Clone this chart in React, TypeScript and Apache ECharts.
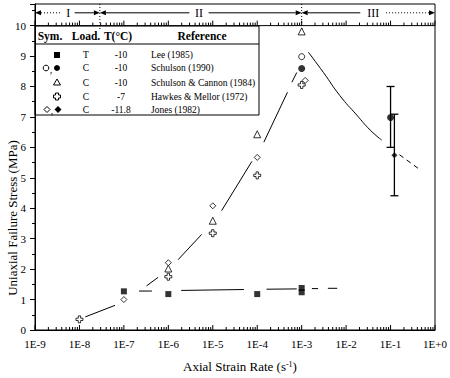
import React, { useEffect, useRef } from "react";
import * as echarts from "echarts";

const SERIF = "Liberation Serif";

// ---- tick labels ----
const xTickLabels = ["1E-9", "1E-8", "1E-7", "1E-6", "1E-5", "1E-4", "1E-3", "1E-2", "1E-1", "1E+0"];
const yTickValues = [0, 1, 2, 3, 4, 5, 6, 7, 8, 9, 10];

// ---- data (strain rate s^-1, stress MPa) ----
// Lee (1985), T, -10 : filled squares
const leeRate = [1e-7, 1e-6, 1e-4, 1e-3, 1e-3];
const leeStress = [1.27, 1.18, 1.18, 1.24, 1.38];
// Schulson (1990), C, -10 : open / filled circles
const schulsonOpenRate = [1e-3];
const schulsonOpenStress = [8.98];
const schulsonFilledRate = [1e-3, 1e-1];
const schulsonFilledStress = [8.59, 6.98];
const schulsonErrLow = [6.0];
const schulsonErrHigh = [8.0];
const schulsonErrRate = [1e-1];
// Schulson & Cannon (1984), C, -10 : open triangles
const cannonRate = [1e-6, 1e-5, 1e-4, 1e-3];
const cannonStress = [2.02, 3.59, 6.43, 9.81];
// Hawkes & Mellor (1972), C, -7 : open crosses
const hawkesRate = [1e-8, 1e-6, 1e-5, 1e-4, 1e-3];
const hawkesStress = [0.35, 1.75, 3.18, 5.08, 8.05];
// Jones (1982), C, -11.8 : open / filled diamonds
const jonesOpenRate = [1e-7, 1e-6, 1e-5, 1e-4, 1.2e-3];
const jonesOpenStress = [1.0, 2.21, 4.08, 5.67, 8.2];
const jonesFilledRate = [1.22e-1];
const jonesFilledStress = [5.74];
const jonesErrLow = [4.41];
const jonesErrHigh = [7.09];

// fitted curves, each inner array is one drawn segment
const riseFitSegments = [
  [[1.35e-8, 0.43], [6.31e-8, 0.81]],
  [[3.24e-7, 1.45], [5.89e-7, 1.73]],
  [[1.66e-6, 2.31], [5.62e-6, 3.14]],
  [[1.58e-5, 3.92], [7.59e-5, 5.54]],
  [[1.41e-4, 6.17], [4.79e-4, 7.81]],
  [[6.03e-4, 8.14], [7.76e-4, 8.46]],
];
const leeFitSegments = [
  [[2.19e-7, 1.28], [4.27e-7, 1.28]],
  [[1.95e-6, 1.30], [5.01e-5, 1.33]],
  [[1.62e-4, 1.34], [7.76e-4, 1.35]],
  [[1.7e-3, 1.36], [2.34e-3, 1.36]],
  [[3.89e-3, 1.37], [6.31e-3, 1.37]],
];
const fallFit = [[1.41e-3, 9.13], [3.09e-3, 8.46], [7.24e-3, 7.7], [1.74e-2, 7.06], [3.47e-2, 6.57], [6.31e-2, 6.24]];
const tailFit = [[0.158, 5.76], [0.457, 5.27]];

// regimes along the top
const regionLabels = ["I", "II", "III"];
const regionStart = [1e-9, 2.88e-8, 1e-3];
const regionEnd = [2.88e-8, 1e-3, 1];
const regionLabelAt = [5.62e-9, 4.9e-6, 4.07e-2];
const regionLeftDotted = [true, false, false];
const regionRightDotted = [false, false, true];
const regionBoundaries = [2.88e-8, 1e-3];
const regionArrowLevel = 10.42;
const topLevel = 10.71;

// legend table
const tableHeader = ["Sym.", "Load.", "T(°C)", "Reference"];
const tableLoad = ["T", "C", "C", "C", "C"];
const tableTemp = ["-10", "-10", "-10", "-7", "-11.8"];
const tableRef = ["Lee (1985)", "Schulson (1990)", "Schulson & Cannon (1984)", "Hawkes & Mellor (1972)", "Jones (1982)"];

const PLUS = "path://M3,0L6,0L6,3L9,3L9,6L6,6L6,9L3,9L3,6L0,6L0,3L3,3Z";

function zip(a: number[], b: number[]) {
  return a.map((v, i) => [v, b[i]]);
}

export default function App() {
  const ref = useRef<HTMLDivElement>(null);
  useEffect(() => {
    if (!ref.current) return;
    const chart = echarts.init(ref.current, undefined, { renderer: "svg" });

    const tickData: number[][] = [];
    for (let k = -9; k <= -1; k++) {
      for (let m = 1; m <= 9; m++) tickData.push([m * Math.pow(10, k), m]);
    }
    tickData.push([1, 1]);

    const black = "#000";
    const segSeries = (segs: number[][][], name: string) =>
      segs.map((s, i) => ({
        type: "line",
        name: name + i,
        data: s,
        showSymbol: false,
        symbol: "none",
        lineStyle: { color: black, width: 1 },
        silent: true,
        z: 2,
      }));

    const txt = (x: number, y: number, text: string, size: number, align: string, bold = false) => ({
      type: "text",
      x,
      y,
      z: 10,
      style: {
        text,
        fontFamily: SERIF,
        fontSize: size,
        fontWeight: bold ? "bold" : "normal",
        fill: black,
        align,
        verticalAlign: "middle",
      },
    });

    const rows = [55, 68, 82.5, 96.5, 109.5];
    const graphicEls: any[] = [
      {
        type: "text",
        x: 12,
        y: 218,
        rotation: Math.PI / 2,
        style: {
          text: "Uniaxial Failure Stress (MPa)",
          fontFamily: SERIF,
          fontSize: 13,
          fill: black,
          align: "center",
          verticalAlign: "middle",
        },
      },
      { type: "rect", shape: { x: 35, y: 26, width: 224, height: 89 }, style: { fill: "none", stroke: black, lineWidth: 1 }, z: 10 },
      { type: "line", shape: { x1: 35, y1: 44, x2: 259, y2: 44 }, style: { stroke: black, lineWidth: 1 }, z: 10 },
      txt(50, 36, tableHeader[0], 11.5, "center", true),
      txt(86, 36, tableHeader[1], 11.5, "center", true),
      txt(118, 36, tableHeader[2], 11.5, "center", true),
      txt(202, 36, tableHeader[3], 11.5, "center", true),
      // symbols
      { type: "rect", shape: { x: 54, y: rows[0] - 3, width: 6, height: 6 }, style: { fill: black }, z: 10 },
      { type: "circle", shape: { cx: 46, cy: rows[1], r: 2.8 }, style: { fill: "#fff", stroke: black, lineWidth: 1 }, z: 10 },
      txt(51, rows[1] + 1, ",", 10, "center"),
      { type: "circle", shape: { cx: 57, cy: rows[1], r: 3 }, style: { fill: black }, z: 10 },
      { type: "polygon", shape: { points: [[57, rows[2] - 3.5], [60.5, rows[2] + 2.5], [53.5, rows[2] + 2.5]] }, style: { fill: "#fff", stroke: black, lineWidth: 1 }, z: 10 },
      {
        type: "polygon",
        shape: {
          points: [
            [55.5, rows[3] - 3.5], [58.5, rows[3] - 3.5], [58.5, rows[3] - 1.5], [60.5, rows[3] - 1.5], [60.5, rows[3] + 1.5], [58.5, rows[3] + 1.5],
            [58.5, rows[3] + 3.5], [55.5, rows[3] + 3.5], [55.5, rows[3] + 1.5], [53.5, rows[3] + 1.5], [53.5, rows[3] - 1.5], [55.5, rows[3] - 1.5],
          ],
        },
        style: { fill: "#fff", stroke: black, lineWidth: 1 },
        z: 10,
      },
      { type: "polygon", shape: { points: [[47, rows[4] - 3], [50, rows[4]], [47, rows[4] + 3], [44, rows[4]]] }, style: { fill: "#fff", stroke: black, lineWidth: 1 }, z: 10 },
      txt(52, rows[4] + 1, ",", 10, "center"),
      { type: "polygon", shape: { points: [[58, rows[4] - 3.5], [61.5, rows[4]], [58, rows[4] + 3.5], [54.5, rows[4]]] }, style: { fill: black }, z: 10 },
    ];
    rows.forEach((y, i) => {
      graphicEls.push(txt(86, y, tableLoad[i], 9.5, "center"), txt(121, y, tableTemp[i], 9.5, "center"), txt(151, y, tableRef[i], 9.5, "left"));
    });

    const option: any = {
      animation: false,
      backgroundColor: "#fff",
      textStyle: { fontFamily: SERIF },
      grid: { left: 35, right: 15, top: 4, bottom: 44, show: true, borderColor: black, borderWidth: 1, backgroundColor: "transparent" },
      xAxis: {
        type: "log",
        logBase: 10,
        min: 1e-9,
        max: 1,
        axisLine: { lineStyle: { color: black, width: 1 } },
        axisTick: { show: false },
        splitLine: { show: false },
        axisLabel: {
          color: black,
          fontFamily: SERIF,
          fontSize: 11,
          margin: 8,
          formatter: (v: number) => xTickLabels[Math.round(Math.log10(v)) + 9] ?? "",
        },
        name: "Axial Strain Rate (s{sup|-1})",
        nameLocation: "middle",
        nameGap: 30,
        nameTextStyle: {
          color: black,
          fontFamily: SERIF,
          fontSize: 13,
          padding: [0, 0, 0, 10],
          rich: { sup: { fontSize: 8, fontFamily: SERIF, color: black, verticalAlign: "top", lineHeight: 10 } },
        },
      },
      yAxis: {
        type: "value",
        min: 0,
        max: topLevel,
        interval: 1,
        axisLine: { lineStyle: { color: black, width: 1 } },
        axisTick: { show: true, inside: false, length: 5, lineStyle: { color: black } },
        minorTick: { show: true, splitNumber: 2, length: 3, lineStyle: { color: black } },
        splitLine: { show: false },
        axisLabel: {
          color: black,
          fontFamily: SERIF,
          fontSize: 11,
          margin: 9,
          showMaxLabel: false,
          formatter: (v: number) => (yTickValues.includes(v) ? String(v) : ""),
        },
      },
      graphic: graphicEls,
      series: [
        // level-10 line
        { type: "line", data: [[1e-9, 10], [1, 10]], showSymbol: false, symbol: "none", lineStyle: { color: black, width: 1 }, silent: true, z: 2 },
        // regime boundaries (dotted)
        ...regionBoundaries.map((b) => ({
          type: "line",
          data: [[b, topLevel], [b, 9.85]],
          showSymbol: false,
          symbol: "none",
          lineStyle: { color: black, width: 1, type: [1, 2] },
          silent: true,
          z: 2,
        })),
        // log ticks (bottom + level 10)
        {
          type: "custom",
          data: tickData,
          silent: true,
          z: 3,
          renderItem: (params: any, api: any) => {
            const v = api.value(0);
            const m = api.value(1);
            const len = m === 1 ? 5 : 3;
            const pb = api.coord([v, 0]);
            const pt = api.coord([v, 10]);
            return {
              type: "group",
              children: [
                { type: "line", shape: { x1: pb[0], y1: pb[1], x2: pb[0], y2: pb[1] - len }, style: { stroke: black, lineWidth: 1 } },
                { type: "line", shape: { x1: pt[0], y1: pt[1], x2: pt[0], y2: pt[1] - len }, style: { stroke: black, lineWidth: 1 } },
              ],
            };
          },
        },
        // regime arrows
        {
          type: "custom",
          data: regionLabels.map((_, i) => [regionStart[i], regionEnd[i], regionLabelAt[i], i]),
          silent: true,
          z: 3,
          renderItem: (params: any, api: any) => {
            const i = api.value(3);
            const p0 = api.coord([api.value(0), regionArrowLevel]);
            const p1 = api.coord([api.value(1), regionArrowLevel]);
            const pl = api.coord([api.value(2), regionArrowLevel]);
            const y = p0[1];
            const label = regionLabels[i];
            const gap = 3 + 3.3 * label.length;
            const ah = 6;
            return {
              type: "group",
              children: [
                {
                  type: "line",
                  shape: { x1: p0[0] + ah, y1: y, x2: pl[0] - gap, y2: y },
                  style: { stroke: black, lineWidth: 1, lineDash: regionLeftDotted[i] ? [1, 2] : null },
                },
                {
                  type: "line",
                  shape: { x1: pl[0] + gap, y1: y, x2: p1[0] - ah, y2: y },
                  style: { stroke: black, lineWidth: 1, lineDash: regionRightDotted[i] ? [1, 2] : null },
                },
                { type: "polygon", shape: { points: [[p0[0], y], [p0[0] + ah, y - 2.5], [p0[0] + ah, y + 2.5]] }, style: { fill: black } },
                { type: "polygon", shape: { points: [[p1[0], y], [p1[0] - ah, y - 2.5], [p1[0] - ah, y + 2.5]] }, style: { fill: black } },
                {
                  type: "text",
                  x: pl[0],
                  y: y,
                  style: { text: label, fontFamily: SERIF, fontSize: 12, fill: black, align: "center", verticalAlign: "middle" },
                },
              ],
            };
          },
        },
        ...segSeries(riseFitSegments, "rise"),
        ...segSeries(leeFitSegments, "lee"),
        { type: "line", data: fallFit, smooth: true, showSymbol: false, symbol: "none", lineStyle: { color: black, width: 1 }, silent: true, z: 2 },
        { type: "line", data: tailFit, showSymbol: false, symbol: "none", lineStyle: { color: black, width: 1, type: [5, 4] }, silent: true, z: 2 },
        // error bars
        {
          type: "custom",
          data: [
            [schulsonErrRate[0], schulsonErrLow[0], schulsonErrHigh[0]],
            [jonesFilledRate[0], jonesErrLow[0], jonesErrHigh[0]],
          ],
          silent: true,
          z: 3,
          renderItem: (params: any, api: any) => {
            const lo = api.coord([api.value(0), api.value(1)]);
            const hi = api.coord([api.value(0), api.value(2)]);
            const w = 4;
            return {
              type: "group",
              children: [
                { type: "line", shape: { x1: lo[0], y1: lo[1], x2: hi[0], y2: hi[1] }, style: { stroke: black, lineWidth: 1.3 } },
                { type: "line", shape: { x1: lo[0] - w, y1: lo[1], x2: lo[0] + w, y2: lo[1] }, style: { stroke: black, lineWidth: 1.3 } },
                { type: "line", shape: { x1: hi[0] - w, y1: hi[1], x2: hi[0] + w, y2: hi[1] }, style: { stroke: black, lineWidth: 1.3 } },
              ],
            };
          },
        },
        // markers
        { type: "scatter", name: "Lee (1985)", data: zip(leeRate, leeStress), symbol: "rect", symbolSize: 6, itemStyle: { color: black }, z: 5 },
        { type: "scatter", name: "Schulson (1990) open", data: zip(schulsonOpenRate, schulsonOpenStress), symbol: "circle", symbolSize: 6, itemStyle: { color: "#fff", borderColor: black, borderWidth: 1 }, z: 5 },
        { type: "scatter", name: "Schulson (1990)", data: zip(schulsonFilledRate, schulsonFilledStress), symbol: "circle", symbolSize: 7, itemStyle: { color: black }, z: 5 },
        { type: "scatter", name: "Schulson & Cannon (1984)", data: zip(cannonRate, cannonStress), symbol: "triangle", symbolSize: 7, itemStyle: { color: "#fff", borderColor: black, borderWidth: 1 }, z: 5 },
        { type: "scatter", name: "Hawkes & Mellor (1972)", data: zip(hawkesRate, hawkesStress), symbol: PLUS, symbolSize: 7, itemStyle: { color: "#fff", borderColor: black, borderWidth: 1 }, z: 5 },
        { type: "scatter", name: "Jones (1982) open", data: zip(jonesOpenRate, jonesOpenStress), symbol: "diamond", symbolSize: 6, itemStyle: { color: "#fff", borderColor: black, borderWidth: 1 }, z: 5 },
        { type: "scatter", name: "Jones (1982)", data: zip(jonesFilledRate, jonesFilledStress), symbol: "diamond", symbolSize: 6, itemStyle: { color: black }, z: 5 },
      ],
    };
    chart.setOption(option);
    return () => chart.dispose();
  }, []);
  return <div ref={ref} style={{ position: "fixed", left: 0, top: 0, width: 450, height: 378 }} />;
}
